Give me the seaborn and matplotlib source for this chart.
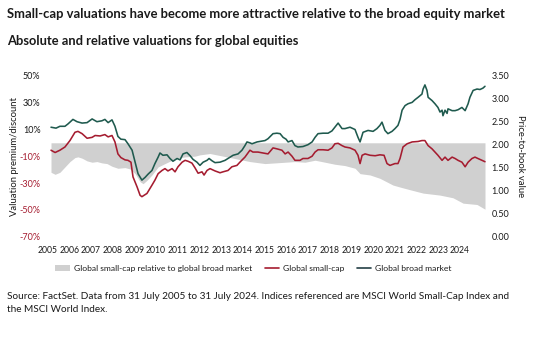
import matplotlib
matplotlib.use("Agg")
import matplotlib.pyplot as plt
import seaborn as sns
import pandas as pd
from matplotlib.patches import Patch
from matplotlib.lines import Line2D

# ---------------- data ----------------
broad_years = [2005.58, 2005.80, 2005.97, 2006.19, 2006.32, 2006.54, 2006.72, 2006.94, 2007.16, 2007.38,
               2007.59, 2007.81, 2007.94, 2008.08, 2008.25, 2008.38, 2008.51, 2008.64, 2008.82, 2008.95,
               2009.13, 2009.26, 2009.39, 2009.56, 2009.70, 2009.83, 2010.00, 2010.13, 2010.27, 2010.35,
               2010.48, 2010.66, 2010.79, 2010.92, 2011.10, 2011.23, 2011.36, 2011.53, 2011.67, 2011.80,
               2011.97, 2012.10, 2012.24, 2012.41, 2012.50, 2012.63, 2012.76, 2012.98, 2013.20, 2013.42,
               2013.55, 2013.77, 2013.94, 2014.07, 2014.16, 2014.29, 2014.38, 2014.60, 2014.82, 2014.95,
               2015.08, 2015.30, 2015.47, 2015.61, 2015.74, 2015.87, 2015.96, 2016.13, 2016.26, 2016.39,
               2016.61, 2016.83, 2017.01, 2017.14, 2017.27, 2017.49, 2017.71, 2017.88, 2018.01, 2018.15,
               2018.32, 2018.45, 2018.67, 2018.89, 2019.02, 2019.11, 2019.24, 2019.46, 2019.68, 2019.85,
               2019.98, 2020.07, 2020.20, 2020.33, 2020.51, 2020.64, 2020.77, 2020.86, 2020.95, 2021.08,
               2021.21, 2021.39, 2021.52, 2021.65, 2021.82, 2021.87, 2021.95, 2022.04, 2022.09, 2022.26,
               2022.39, 2022.52, 2022.61, 2022.70, 2022.74, 2022.83, 2022.92, 2022.96, 2023.14, 2023.27,
               2023.40, 2023.57, 2023.71, 2023.84, 2023.92, 2024.06, 2024.23, 2024.36, 2024.49, 2024.58]
broad_pb = [2.38, 2.36, 2.40, 2.40, 2.45, 2.55, 2.50, 2.47, 2.48, 2.56,
            2.50, 2.52, 2.55, 2.48, 2.54, 2.40, 2.18, 2.12, 2.11, 2.02,
            1.88, 1.62, 1.37, 1.23, 1.29, 1.36, 1.44, 1.59, 1.73, 1.82,
            1.77, 1.78, 1.70, 1.64, 1.70, 1.67, 1.80, 1.83, 1.76, 1.68,
            1.62, 1.55, 1.62, 1.66, 1.70, 1.65, 1.61, 1.62, 1.66, 1.73,
            1.77, 1.80, 1.88, 1.98, 2.06, 2.04, 2.02, 2.06, 2.08, 2.09,
            2.13, 2.24, 2.25, 2.24, 2.16, 2.12, 2.06, 2.09, 1.98, 1.95,
            1.96, 2.00, 2.06, 2.16, 2.24, 2.25, 2.25, 2.30, 2.38, 2.47,
            2.35, 2.35, 2.38, 2.33, 2.16, 2.06, 2.27, 2.31, 2.29, 2.35,
            2.42, 2.49, 2.31, 2.24, 2.29, 2.35, 2.42, 2.55, 2.75, 2.85,
            2.89, 2.92, 2.98, 3.03, 3.10, 3.21, 3.30, 3.18, 3.03, 2.96,
            2.89, 2.81, 2.71, 2.75, 2.63, 2.75, 2.68, 2.78, 2.74, 2.74,
            2.76, 2.81, 2.74, 2.89, 3.03, 3.18, 3.21, 3.20, 3.23, 3.27]

small_years = [2005.58, 2005.76, 2005.97, 2006.19, 2006.41, 2006.63, 2006.76, 2006.94, 2007.16, 2007.38,
               2007.51, 2007.73, 2007.94, 2008.08, 2008.25, 2008.38, 2008.51, 2008.64, 2008.82, 2008.95,
               2009.08, 2009.17, 2009.35, 2009.48, 2009.56, 2009.78, 2010.00, 2010.13, 2010.27, 2010.44,
               2010.57, 2010.70, 2010.88, 2011.01, 2011.14, 2011.32, 2011.45, 2011.58, 2011.75, 2011.88,
               2012.02, 2012.19, 2012.28, 2012.41, 2012.54, 2012.76, 2012.98, 2013.11, 2013.33, 2013.50,
               2013.72, 2013.85, 2014.07, 2014.29, 2014.42, 2014.64, 2014.86, 2015.08, 2015.30, 2015.47,
               2015.69, 2015.83, 2015.96, 2016.13, 2016.26, 2016.48, 2016.61, 2016.83, 2017.01, 2017.14,
               2017.27, 2017.49, 2017.71, 2017.88, 2018.01, 2018.15, 2018.32, 2018.45, 2018.67, 2018.89,
               2019.02, 2019.11, 2019.20, 2019.33, 2019.55, 2019.77, 2019.98, 2020.16, 2020.29, 2020.42,
               2020.64, 2020.77, 2020.86, 2020.99, 2021.17, 2021.39, 2021.65, 2021.82, 2021.95, 2022.09,
               2022.26, 2022.39, 2022.52, 2022.70, 2022.83, 2022.96, 2023.14, 2023.27, 2023.40, 2023.57,
               2023.71, 2023.84, 2024.01, 2024.14, 2024.27, 2024.45, 2024.58]
small_pb = [1.88, 1.83, 1.88, 1.95, 2.09, 2.27, 2.29, 2.24, 2.14, 2.16,
            2.20, 2.19, 2.22, 2.17, 2.20, 2.06, 1.80, 1.72, 1.67, 1.66,
            1.62, 1.30, 1.08, 0.90, 0.87, 0.94, 1.12, 1.23, 1.37, 1.44,
            1.48, 1.43, 1.48, 1.41, 1.52, 1.62, 1.66, 1.64, 1.60, 1.50,
            1.38, 1.41, 1.34, 1.44, 1.48, 1.43, 1.39, 1.41, 1.44, 1.52,
            1.55, 1.62, 1.73, 1.88, 1.84, 1.84, 1.82, 1.80, 1.93, 1.91,
            1.88, 1.80, 1.84, 1.75, 1.66, 1.66, 1.70, 1.70, 1.75, 1.84,
            1.89, 1.89, 1.88, 1.93, 2.02, 2.03, 1.98, 1.95, 1.93, 1.88,
            1.77, 1.59, 1.77, 1.80, 1.77, 1.76, 1.78, 1.77, 1.59, 1.55,
            1.59, 1.59, 1.70, 1.95, 2.02, 2.06, 2.07, 2.09, 2.09, 1.98,
            1.91, 1.84, 1.77, 1.66, 1.73, 1.66, 1.73, 1.70, 1.66, 1.62,
            1.52, 1.62, 1.70, 1.73, 1.70, 1.66, 1.63]

rel_years = [2005.58, 2005.76, 2005.97, 2006.19, 2006.41, 2006.63, 2006.76, 2006.94, 2007.16, 2007.38,
             2007.59, 2007.81, 2008.03, 2008.25, 2008.51, 2008.82, 2009.04, 2009.26, 2009.48, 2009.61,
             2009.78, 2010.00, 2010.27, 2010.57, 2010.88, 2011.14, 2011.45, 2011.88, 2012.10, 2012.54,
             2012.98, 2013.42, 2013.85, 2014.29, 2014.73, 2014.95, 2015.39, 2015.83, 2016.26, 2016.70,
             2017.14, 2017.58, 2018.01, 2018.45, 2018.89, 2019.11, 2019.55, 2019.98, 2020.55, 2020.86,
             2021.30, 2021.87, 2022.61, 2023.18, 2023.62, 2024.23, 2024.58]
rel_premium = [-22, -23.5, -22, -18, -14, -11, -10.5, -11.5, -13.5, -14.5,
               -14, -15, -15.5, -17.5, -19, -18.5, -19.5, -23, -29, -30.5,
               -28, -24, -18, -15.5, -13, -11.5, -10.5, -10, -9, -8,
               -9.5, -11, -12.5, -14, -15, -15.5, -15, -14.5, -14, -14.5,
               -13, -14.5, -16, -17, -19, -23, -24, -26.5, -31.5, -33,
               -35, -37.5, -39, -41, -45, -46, -49.5]

year_labels = [str(y) for y in range(2005, 2025)]
left_ticks = [50, 30, 10, -10, -30, -50, -70]
right_ticks = [0.0, 0.5, 1.0, 1.5, 2.0, 2.5, 3.0, 3.5]

title = "Small-cap valuations have become more attractive relative to the broad equity market"
subtitle = "Absolute and relative valuations for global equities"
source = ("Source: FactSet. Data from 31 July 2005 to 31 July 2024. Indices referenced are MSCI World Small-Cap Index and\n"
          "the MSCI World Index.")
legend_labels = ["Global small-cap relative to global broad market", "Global small-cap", "Global broad market"]

# ---------------- style ----------------
sns.set_theme(style="white")
plt.rcParams["font.family"] = ["Lato", "DejaVu Sans"]

RED = "#a51c30"
GREEN = "#1f5a4e"
GREY = "#d0d0d0"
TXT = "#1a1a1a"

W, H = 536, 337
fig = plt.figure(figsize=(W / 100, H / 100), dpi=100)
ax = fig.add_axes([46 / W, 1 - 236.7 / H, 440 / W, 161 / H])
ax2 = ax.twinx()

# grey area (left axis)
ax.fill_between(rel_years, rel_premium, 0, color=GREY, linewidth=0, zorder=1)

# lines (right axis)
df_s = pd.DataFrame({"year": small_years, "pb": small_pb})
df_b = pd.DataFrame({"year": broad_years, "pb": broad_pb})
sns.lineplot(data=df_s, x="year", y="pb", ax=ax2, color=RED, linewidth=1.15, estimator=None)
sns.lineplot(data=df_b, x="year", y="pb", ax=ax2, color=GREEN, linewidth=1.15, estimator=None)

x0 = 2005.58 - 5 / 22.84
x1 = 2024.58 + 1 / 22.84
for a in (ax, ax2):
    a.set_xlim(x0, x1)
    for s in a.spines.values():
        s.set_visible(False)
    a.tick_params(length=0)
    a.grid(False)

ax.set_ylim(-70, 50)
ax2.set_ylim(0, 3.5)

ax.set_yticks(left_ticks)
ax.set_yticklabels([f"{v}%" for v in left_ticks], fontsize=6.5)
for lbl, v in zip(ax.get_yticklabels(), left_ticks):
    lbl.set_color(RED if v < 0 else TXT)
ax.tick_params(axis="y", pad=4)

ax2.set_yticks(right_ticks)
ax2.set_yticklabels([f"{v:.2f}" for v in right_ticks], fontsize=6.5, color=TXT)
ax2.tick_params(axis="y", pad=4)

tick_pos = [2005.427 + 0.9505 * i for i in range(len(year_labels))]
ax.set_xticks(tick_pos)
ax.set_xticklabels(year_labels, fontsize=6.2, color=TXT)
ax.tick_params(axis="x", pad=7)
ax2.set_xlabel("")
ax.set_xlabel("")

ax.set_ylabel("Valuation premium/discount", fontsize=6.8, color=TXT, labelpad=0)
ax2.set_ylabel("Price-to-book value", fontsize=6.8, color=TXT, rotation=-90, labelpad=11.5)

# titles
fig.text(7 / W, 1 - 14 / H, title, fontsize=9.4, fontweight="bold", color=TXT, va="center", ha="left")
fig.text(7 / W, 1 - 41 / H, subtitle, fontsize=9.3, fontweight="bold", color=TXT, va="center", ha="left")

# legend
handles = [Patch(facecolor=GREY, edgecolor="none"),
           Line2D([0], [0], color=RED, lw=1.2),
           Line2D([0], [0], color="#243f45", lw=1.2)]
fig.legend(handles, legend_labels, loc="center", bbox_to_anchor=(253.5 / W, 1 - 268.5 / H), ncol=3,
           frameon=False, fontsize=6.1, handlelength=1.7, handleheight=0.6, handletextpad=0.45,
           columnspacing=1.5, labelcolor=TXT)

# source
fig.text(7 / W, 1 - 303 / H, source, fontsize=7.2, color=TXT, va="center", ha="left", linespacing=1.6)

fig.savefig("out.png", dpi=100)
